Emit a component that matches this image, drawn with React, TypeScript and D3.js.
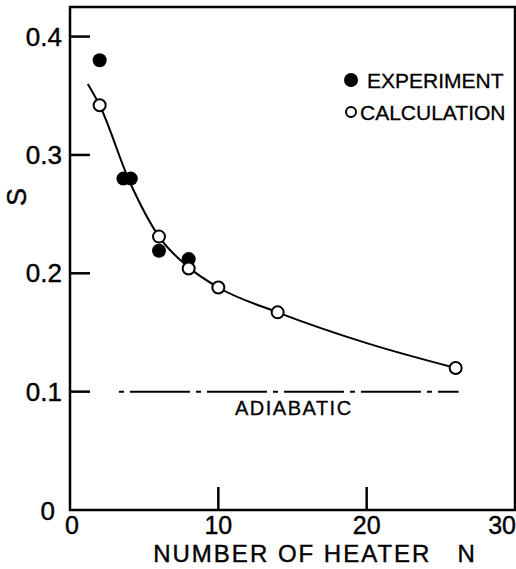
import React, { useEffect, useRef } from 'react';
import * as d3 from 'd3';

// values
const experimentN = [2, 3.6, 4.1, 6, 8];
const experimentS = [0.38, 0.28, 0.28, 0.219, 0.212];

const calculationN = [2, 6, 8, 10, 14, 26];
const calculationS = [0.342, 0.231, 0.204, 0.188, 0.167, 0.12];

// fitted curve drawn through the calculation
const curveN = [1.2, 2, 4, 6, 8, 10, 14, 20, 26];
const curveS = [0.36, 0.342, 0.278, 0.231, 0.205, 0.188, 0.167, 0.141, 0.12];

const adiabaticS = 0.1;
const adiabaticRange = [3.3, 26.2];

const xTicks = [0, 10, 20, 30];
const yTicks = [0.1, 0.2, 0.3, 0.4];

const FONT = '"Liberation Sans", Arial, sans-serif';

export default function App() {
  const svgRef = useRef<SVGSVGElement>(null);

  useEffect(() => {
    document.body.style.margin = '0';
    if (!svgRef.current) return;

    const width = 516;
    const height = 569;
    const svg = d3.select(svgRef.current);
    svg.selectAll('*').remove();
    svg.attr('width', width).attr('height', height);

    const x = d3.scaleLinear().domain([0, 30]).range([70, 515]);
    const y = d3.scaleLinear().domain([0, 0.425]).range([510, 7]);

    // frame
    svg.append('rect')
      .attr('x', x(0))
      .attr('y', y(0.425))
      .attr('width', x(30) - x(0))
      .attr('height', y(0) - y(0.425))
      .attr('fill', 'none')
      .attr('stroke', '#000')
      .attr('stroke-width', 2.5);

    // inward ticks
    svg.append('g')
      .selectAll('line')
      .data(yTicks)
      .join('line')
      .attr('x1', x(0))
      .attr('x2', x(0) + 20)
      .attr('y1', d => y(d))
      .attr('y2', d => y(d))
      .attr('stroke', '#000')
      .attr('stroke-width', 2.5);

    svg.append('g')
      .selectAll('line')
      .data(xTicks.filter(d => d > 0 && d < 30))
      .join('line')
      .attr('x1', d => x(d))
      .attr('x2', d => x(d))
      .attr('y1', y(0))
      .attr('y2', y(0) - 23)
      .attr('stroke', '#000')
      .attr('stroke-width', 2.5);

    // tick labels
    svg.append('g')
      .selectAll('text')
      .data(yTicks)
      .join('text')
      .attr('x', 62)
      .attr('y', d => y(d) + 9)
      .attr('text-anchor', 'end')
      .style('font-family', FONT)
      .style('font-size', '26px')
      .style('stroke', '#000')
      .style('stroke-width', 0.4)
      .text(d => d.toFixed(1));

    svg.append('text')
      .attr('x', 55)
      .attr('y', 520)
      .attr('text-anchor', 'end')
      .style('font-family', FONT)
      .style('font-size', '26px')
      .style('stroke', '#000')
      .style('stroke-width', 0.4)
      .text('0');

    svg.append('g')
      .selectAll('text')
      .data(xTicks)
      .join('text')
      .attr('x', d => (d === 30 ? 516 : d === 0 ? x(d) + 2 : x(d)))
      .attr('y', 534)
      .attr('text-anchor', d => (d === 30 ? 'end' : 'middle'))
      .style('font-family', FONT)
      .style('font-size', '25px')
      .style('stroke', '#000')
      .style('stroke-width', 0.4)
      .text(d => d);

    // axis titles
    svg.append('text')
      .attr('x', 315)
      .attr('y', 562)
      .attr('text-anchor', 'middle')
      .style('font-family', FONT)
      .style('font-size', '24px')
      .style('letter-spacing', '2px')
      .style('white-space', 'pre')
      .style('stroke', '#000')
      .style('stroke-width', 0.4)
      .text('NUMBER OF HEATER   N');

    svg.append('text')
      .attr('transform', `translate(26,${197}) rotate(-90)`)
      .attr('text-anchor', 'middle')
      .style('font-family', FONT)
      .style('font-size', '27px')
      .style('stroke', '#000')
      .style('stroke-width', 0.4)
      .text('S');

    // adiabatic limit
    svg.append('line')
      .attr('x1', x(adiabaticRange[0]))
      .attr('x2', x(adiabaticRange[1]))
      .attr('y1', y(adiabaticS))
      .attr('y2', y(adiabaticS))
      .attr('stroke', '#000')
      .attr('stroke-width', 2)
      .attr('stroke-dasharray', '5,6,60,6');

    svg.append('text')
      .attr('x', 235)
      .attr('y', 415)
      .style('font-family', FONT)
      .style('font-size', '20px')
      .style('letter-spacing', '1.5px')
      .style('stroke', '#000')
      .style('stroke-width', 0.3)
      .text('ADIABATIC');

    // curve
    const curveData = curveN.map((n, i) => [n, curveS[i]] as [number, number]);
    const line = d3.line<[number, number]>()
      .x(d => x(d[0]))
      .y(d => y(d[1]))
      .curve(d3.curveMonotoneX);

    svg.append('path')
      .datum(curveData)
      .attr('d', line)
      .attr('fill', 'none')
      .attr('stroke', '#000')
      .attr('stroke-width', 2);

    // experiment points
    svg.append('g')
      .selectAll('circle')
      .data(experimentN.map((n, i) => [n, experimentS[i]]))
      .join('circle')
      .attr('cx', d => x(d[0]))
      .attr('cy', d => y(d[1]))
      .attr('r', 7)
      .attr('fill', '#000');

    // calculation points
    svg.append('g')
      .selectAll('circle')
      .data(calculationN.map((n, i) => [n, calculationS[i]]))
      .join('circle')
      .attr('cx', d => x(d[0]))
      .attr('cy', d => y(d[1]))
      .attr('r', 6)
      .attr('fill', '#fff')
      .attr('stroke', '#000')
      .attr('stroke-width', 2);

    // legend
    const legend = svg.append('g');
    legend.append('circle')
      .attr('cx', 351).attr('cy', 80).attr('r', 7).attr('fill', '#000');
    legend.append('text')
      .attr('x', 367).attr('y', 88)
      .style('font-family', FONT).style('font-size', '21px')
      .style('stroke', '#000').style('stroke-width', 0.3)
      .text('EXPERIMENT');
    legend.append('circle')
      .attr('cx', 351).attr('cy', 112).attr('r', 5)
      .attr('fill', '#fff').attr('stroke', '#000').attr('stroke-width', 2);
    legend.append('text')
      .attr('x', 360).attr('y', 120)
      .style('font-family', FONT).style('font-size', '21px')
      .style('stroke', '#000').style('stroke-width', 0.3)
      .text('CALCULATION');
  }, []);

  return <svg ref={svgRef} style={{ display: 'block' }}></svg>;
}
